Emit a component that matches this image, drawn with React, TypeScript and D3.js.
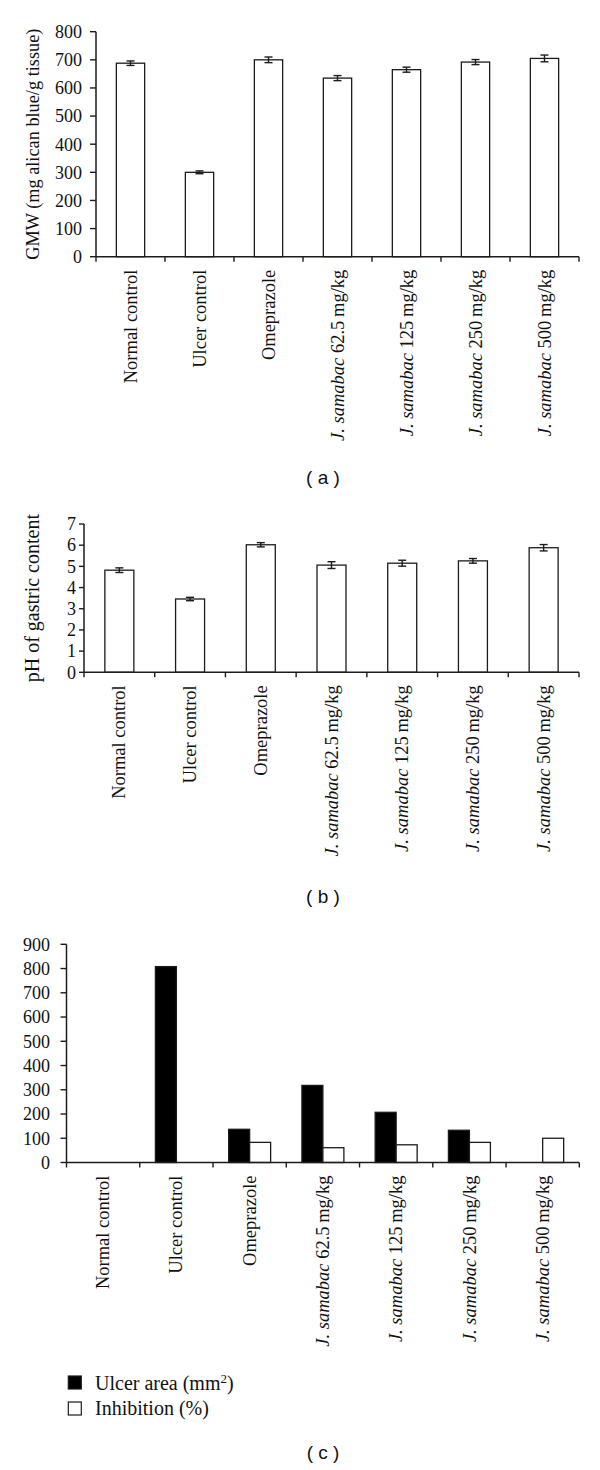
import React from 'react';
import * as d3 from 'd3';

// groups on the x axis (same for all three panels)
const categories = [
  'Normal control',
  'Ulcer control',
  'Omeprazole',
  'J. samabac 62.5 mg/kg',
  'J. samabac 125 mg/kg',
  'J. samabac 250 mg/kg',
  'J. samabac 500 mg/kg',
];

// (a) gastric mucus weight
const gmwMean = [688, 300, 700, 635, 665, 692, 705];
const gmwErr = [8, 5, 10, 9, 9, 9, 12];

// (b) pH
const phMean = [4.82, 3.46, 6.02, 5.06, 5.15, 5.26, 5.88];
const phErr = [0.11, 0.08, 0.1, 0.16, 0.14, 0.11, 0.15];

// (c) ulcer area and inhibition
const ulcerArea = [0, 808, 137, 318, 207, 133, 0];
const inhibition = [0, 0, 83, 61, 73, 83, 100];

const SERIF = '"Liberation Serif", "Times New Roman", serif';
const SANS = '"Liberation Sans", Arial, sans-serif';
const INK = '#1c1c1c';

function CatLabel({ name }: { name: string }) {
  // species name goes in italics
  if (name.startsWith('J. samabac')) {
    const rest = name.slice('J. samabac'.length).replace(' mg', '\u2009mg');
    return (
      <>
        <tspan fontStyle="italic">J. samabac</tspan>
        <tspan>{rest}</tspan>
      </>
    );
  }
  return <>{name}</>;
}

function Panel(props: any) {
  const {
    left, right, top, bottom, yMax, yStep, series, groupFrac,
    title, titleX, titleSize, labelRight, tickLen, caption, captionY,
  } = props;

  const x = d3.scaleBand().domain(categories).range([left, right]);
  const y = d3.scaleLinear().domain([0, yMax]).range([bottom, top]);
  const yTicks = d3.range(0, yMax + yStep / 2, yStep);
  const bw = x.bandwidth();
  const groupW = bw * groupFrac;
  const sub = d3.scaleBand().domain(series.map((s: any, i: number) => String(i))).range([0, groupW]);
  const bounds = categories.map((c) => x(c)!).concat([right]);

  return (
    <g>
      {/* bars */}
      {series.map((s: any, si: number) =>
        categories.map((c, i) => {
          const v = s.values[i];
          if (!v) return null;
          const bx = x(c)! + (bw - groupW) / 2 + sub(String(si))!;
          return (
            <rect key={`${si}-${i}`} x={bx} y={y(v)} width={sub.bandwidth()} height={y(0) - y(v)}
              fill={s.fill} stroke={INK} strokeWidth={1.3} />
          );
        })
      )}
      {/* error bars */}
      {series.map((s: any, si: number) =>
        s.errs ? categories.map((c, i) => {
          const cx = x(c)! + (bw - groupW) / 2 + sub(String(si))! + sub.bandwidth() / 2;
          const lo = y(s.values[i] - s.errs[i]);
          const hi = y(s.values[i] + s.errs[i]);
          return (
            <g key={`e${si}-${i}`} stroke={INK} strokeWidth={1.4}>
              <line x1={cx} x2={cx} y1={lo} y2={hi} />
              <line x1={cx - 4} x2={cx + 4} y1={lo} y2={lo} />
              <line x1={cx - 4} x2={cx + 4} y1={hi} y2={hi} />
            </g>
          );
        }) : null
      )}
      {/* y axis */}
      <line x1={left} x2={left} y1={top} y2={bottom} stroke={INK} strokeWidth={1.5} />
      {yTicks.map((t: number) => (
        <g key={t}>
          <line x1={left - tickLen} x2={left} y1={y(t)} y2={y(t)} stroke={INK} strokeWidth={1.4} />
          <text x={labelRight} y={y(t)} dy="0.35em" textAnchor="end" fontFamily={SERIF} fontSize={18} fill="#111">
            {t}
          </text>
        </g>
      ))}
      {/* x axis */}
      <line x1={left} x2={right} y1={bottom} y2={bottom} stroke={INK} strokeWidth={1.5} />
      {bounds.map((bx: number, i: number) => (
        <line key={i} x1={bx} x2={bx} y1={bottom} y2={bottom + 5} stroke={INK} strokeWidth={1.4} />
      ))}
      {categories.map((c) => (
        <text key={c} transform={`translate(${x(c)! + bw / 2},${bottom + 13}) rotate(-90)`}
          dy="0.33em" textAnchor="end" fontFamily={SERIF} fontSize={18.5} fill="#111">
          <CatLabel name={c} />
        </text>
      ))}
      {title ? (
        <text transform={`translate(${titleX},${(top + bottom) / 2}) rotate(-90)`} textAnchor="middle"
          fontFamily={SERIF} fontSize={titleSize} fill="#111">
          {title}
        </text>
      ) : null}
      <text x={323} y={captionY} textAnchor="middle" fontFamily={SANS} fontSize={19} fill="#111">
        {caption}
      </text>
    </g>
  );
}

export default function App() {
  return (
    <div style={{ position: 'absolute', left: 0, top: 0 }}>
      <svg width={600} height={1470} style={{ display: 'block', background: '#fff' }}>
        <Panel left={96} right={579} top={31.7} bottom={256.7} yMax={800} yStep={100}
          series={[{ values: gmwMean, errs: gmwErr, fill: '#fff' }]} groupFrac={0.41}
          title="GMW (mg alican blue/g tissue)" titleX={39} titleSize={18.3}
          labelRight={82} tickLen={6} caption="( a )" captionY={484} />
        <Panel left={84} right={579} top={524} bottom={672.3} yMax={7} yStep={1}
          series={[{ values: phMean, errs: phErr, fill: '#fff' }]} groupFrac={0.41}
          title="pH of gastric content" titleX={39} titleSize={20}
          labelRight={76} tickLen={5} caption="( b )" captionY={903} />
        <Panel left={66.5} right={579.3} top={944.3} bottom={1162.5} yMax={900} yStep={100}
          series={[
            { values: ulcerArea, fill: '#000' },
            { values: inhibition, fill: '#fff' },
          ]} groupFrac={0.573}
          labelRight={50} tickLen={6} caption="( c )" captionY={1459} />
        {/* legend for (c) */}
        <rect x={68.3} y={1376} width={13} height={13} fill="#000" stroke={INK} strokeWidth={1.2} />
        <text x={95} y={1390} fontFamily={SERIF} fontSize={20} fill="#111">
          Ulcer area (mm<tspan dy={-7} fontSize={13}>2</tspan><tspan dy={7}>)</tspan>
        </text>
        <rect x={68.3} y={1402} width={13} height={13} fill="#fff" stroke={INK} strokeWidth={1.2} />
        <text x={95} y={1415} fontFamily={SERIF} fontSize={20} fill="#111">
          Inhibition (%)
        </text>
      </svg>
    </div>
  );
}
